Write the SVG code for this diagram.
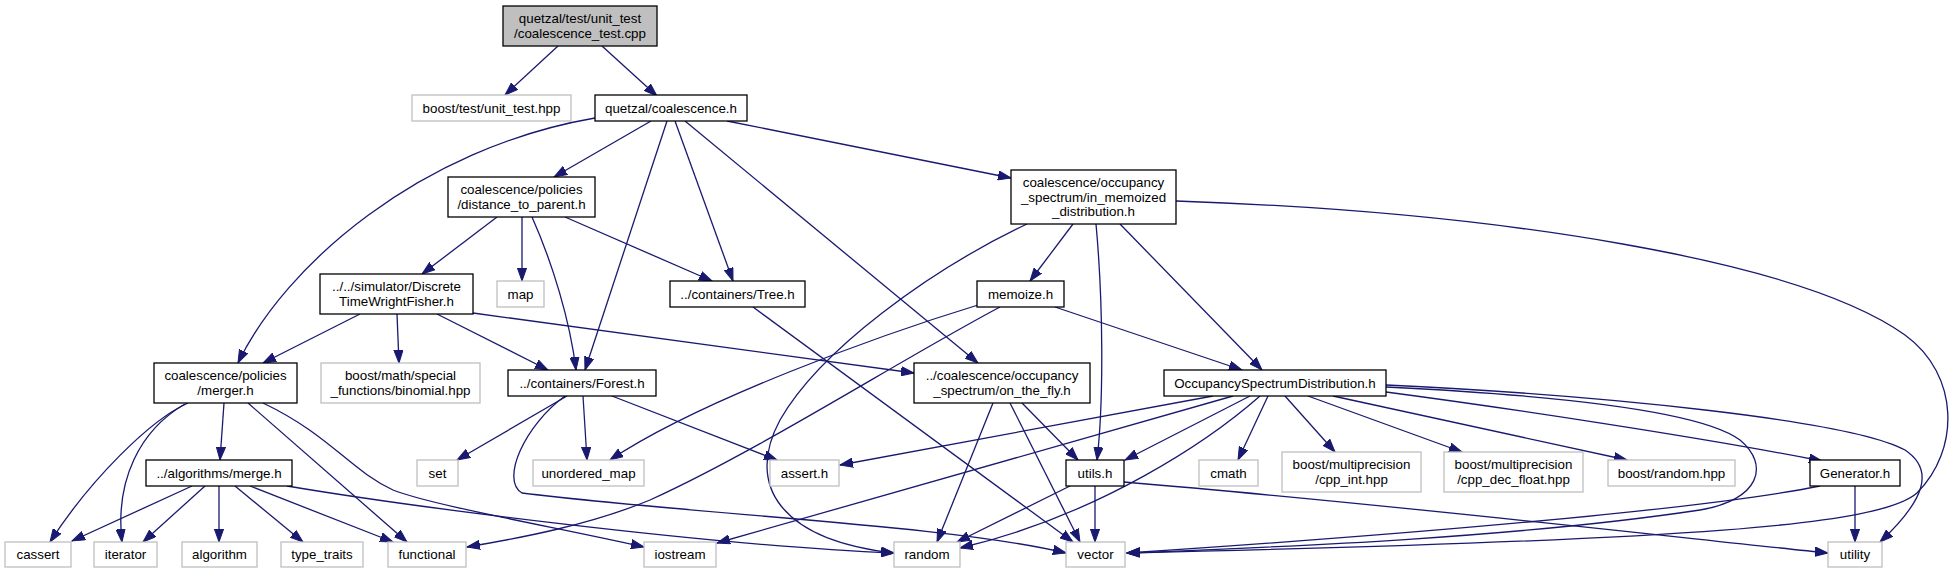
<svg xmlns="http://www.w3.org/2000/svg" width="1959" height="573" viewBox="0 0 1959 573">
<style>
.n rect{fill:#fff;stroke:#000;stroke-width:1.3}
.x rect{fill:#fff;stroke:#bfbfbf;stroke-width:1.3}
.r rect{fill:#bfbfbf;stroke:#000;stroke-width:1.3}
text{font-family:"Liberation Sans",Arial,Helvetica,sans-serif;font-size:13.33px;text-anchor:middle;fill:#000}
#edges path{fill:none;stroke:#191970;stroke-width:1.3;marker-end:url(#a)}
</style>
<defs>
<marker id="a" markerWidth="14" markerHeight="10" refX="13" refY="5" orient="auto" markerUnits="userSpaceOnUse">
<path d="M0,0.4 L13,5 L0,9.6 Z" fill="#191970" stroke="#191970" stroke-width="1"/>
</marker>
</defs>
<rect width="1959" height="573" fill="#fff"/>
<g id="edges">
<path d="M558,46 L505,95"/>
<path d="M602,46 L657,96"/>
<path d="M595,118 C420,148 285,265 238,363"/>
<path d="M651,121 L554,177"/>
<path d="M667,121 L585,370"/>
<path d="M675,121 L733,281"/>
<path d="M685,121 L978,363"/>
<path d="M727,121 L1011,178"/>
<path d="M497,217 L422,274"/>
<path d="M522,217 L522,281"/>
<path d="M532,217 C552,262 570,320 576,370"/>
<path d="M565,217 L712,281"/>
<path d="M360,314 L263,363"/>
<path d="M397,314 L399,363"/>
<path d="M437,314 L548,370"/>
<path d="M473,313 L914,373"/>
<path d="M753,307 L1073,542"/>
<path d="M1027,224 C930,270 820,350 780,420 C745,485 780,540 894,553"/>
<path d="M1073,224 L1030,281"/>
<path d="M1096,224 C1103,300 1104,400 1097,460"/>
<path d="M1120,224 L1262,370"/>
<path d="M1176,201 C1500,212 1800,260 1905,335 C1960,375 1960,450 1917,493 C1880,525 1700,540 1127,553"/>
<path d="M978,305 C880,335 700,400 610,460"/>
<path d="M1000,307 C900,360 760,450 650,500 C590,525 520,538 467,547"/>
<path d="M1055,307 L1242,370"/>
<path d="M188,403 C150,420 90,480 50,542"/>
<path d="M185,404 C140,430 115,480 122,542"/>
<path d="M224,403 L220,460"/>
<path d="M248,403 L407,542"/>
<path d="M263,403 C330,435 350,470 393,490 C430,505 560,528 644,547"/>
<path d="M287,486 C400,505 700,545 894,553"/>
<path d="M192,486 L72,541"/>
<path d="M205,486 L143,542"/>
<path d="M219,486 L219,542"/>
<path d="M235,486 L303,542"/>
<path d="M250,486 L393,542"/>
<path d="M567,396 L457,460"/>
<path d="M583,396 L587,460"/>
<path d="M612,396 L777,460"/>
<path d="M565,396 C525,425 500,480 522,493 C700,515 950,525 1066,553"/>
<path d="M1022,403 L1078,460"/>
<path d="M993,403 L937,542"/>
<path d="M1010,403 L1080,542"/>
<path d="M1213,396 L840,465"/>
<path d="M1233,396 L717,543"/>
<path d="M1250,396 L1125,460"/>
<path d="M1260,396 C1210,440 1100,515 960,548"/>
<path d="M1268,396 L1238,460"/>
<path d="M1285,396 L1335,452"/>
<path d="M1308,396 L1462,452"/>
<path d="M1333,396 L1627,460"/>
<path d="M1386,392 C1500,407 1700,437 1822,461"/>
<path d="M1386,387 C1550,395 1700,410 1740,440 C1770,465 1760,500 1700,510 C1500,540 1250,548 1127,553"/>
<path d="M1386,385 C1600,395 1850,420 1905,450 C1935,470 1925,500 1880,542"/>
<path d="M1820,486 C1700,510 1400,535 1127,553"/>
<path d="M1855,486 L1855,542"/>
<path d="M1124,482 C1400,505 1700,540 1828,553"/>
<path d="M1095,486 L1095,542"/>
<path d="M1070,486 L957,542"/>
</g>
<g id="n1" class="r"><rect x="503" y="6" width="154" height="40"/><text x="580" y="22.5">quetzal/test/unit_test</text><text x="580" y="37.5">/coalescence_test.cpp</text></g>
<g id="n2" class="x"><rect x="412" y="95" width="159" height="26"/><text x="491.5" y="112.5">boost/test/unit_test.hpp</text></g>
<g id="n3" class="n"><rect x="595" y="95" width="152" height="26"/><text x="671" y="112.5">quetzal/coalescence.h</text></g>
<g id="n4" class="n"><rect x="448" y="177" width="147" height="40"/><text x="521.5" y="194">coalescence/policies</text><text x="521.5" y="209">/distance_to_parent.h</text></g>
<g id="n5" class="n"><rect x="1011" y="170" width="165" height="54"/><text x="1093.5" y="187">coalescence/occupancy</text><text x="1093.5" y="201.5">_spectrum/in_memoized</text><text x="1093.5" y="216">_distribution.h</text></g>
<g id="n6" class="n"><rect x="320" y="274" width="153" height="40"/><text x="396.5" y="291">../../simulator/Discrete</text><text x="396.5" y="306">TimeWrightFisher.h</text></g>
<g id="n7" class="x"><rect x="497" y="281" width="47" height="26"/><text x="520.5" y="298.5">map</text></g>
<g id="n8" class="n"><rect x="670" y="281" width="135" height="26"/><text x="737.5" y="298.5">../containers/Tree.h</text></g>
<g id="n9" class="n"><rect x="977" y="281" width="87" height="26"/><text x="1020.5" y="298.5">memoize.h</text></g>
<g id="n10" class="n"><rect x="154" y="363" width="143" height="40"/><text x="225.5" y="380">coalescence/policies</text><text x="225.5" y="395">/merger.h</text></g>
<g id="n11" class="x"><rect x="321" y="363" width="159" height="40"/><text x="400.5" y="380">boost/math/special</text><text x="400.5" y="395">_functions/binomial.hpp</text></g>
<g id="n12" class="n"><rect x="508" y="370" width="148" height="26"/><text x="582" y="387.5">../containers/Forest.h</text></g>
<g id="n13" class="n"><rect x="914" y="363" width="176" height="40"/><text x="1002" y="380">../coalescence/occupancy</text><text x="1002" y="395">_spectrum/on_the_fly.h</text></g>
<g id="n14" class="n"><rect x="1164" y="370" width="222" height="26"/><text x="1275" y="387.5">OccupancySpectrumDistribution.h</text></g>
<g id="n15" class="n"><rect x="146" y="460" width="146" height="26"/><text x="219" y="477.5">../algorithms/merge.h</text></g>
<g id="n16" class="x"><rect x="417" y="460" width="41" height="26"/><text x="437.5" y="477.5">set</text></g>
<g id="n17" class="x"><rect x="533" y="460" width="111" height="26"/><text x="588.5" y="477.5">unordered_map</text></g>
<g id="n18" class="x"><rect x="770" y="460" width="69" height="26"/><text x="804.5" y="477.5">assert.h</text></g>
<g id="n19" class="n"><rect x="1066" y="460" width="58" height="26"/><text x="1095" y="477.5">utils.h</text></g>
<g id="n20" class="x"><rect x="1199" y="460" width="59" height="26"/><text x="1228.5" y="477.5">cmath</text></g>
<g id="n21" class="x"><rect x="1282" y="452" width="139" height="40"/><text x="1351.5" y="469">boost/multiprecision</text><text x="1351.5" y="484">/cpp_int.hpp</text></g>
<g id="n22" class="x"><rect x="1444" y="452" width="139" height="40"/><text x="1513.5" y="469">boost/multiprecision</text><text x="1513.5" y="484">/cpp_dec_float.hpp</text></g>
<g id="n23" class="x"><rect x="1608" y="460" width="127" height="26"/><text x="1671.5" y="477.5">boost/random.hpp</text></g>
<g id="n24" class="n"><rect x="1810" y="460" width="90" height="26"/><text x="1855" y="477.5">Generator.h</text></g>
<g id="n25" class="x"><rect x="5" y="542" width="66" height="25"/><text x="38" y="559">cassert</text></g>
<g id="n26" class="x"><rect x="94" y="542" width="63" height="25"/><text x="125.5" y="559">iterator</text></g>
<g id="n27" class="x"><rect x="182" y="542" width="75" height="25"/><text x="219.5" y="559">algorithm</text></g>
<g id="n28" class="x"><rect x="281" y="542" width="82" height="25"/><text x="322" y="559">type_traits</text></g>
<g id="n29" class="x"><rect x="388" y="542" width="78" height="25"/><text x="427" y="559">functional</text></g>
<g id="n30" class="x"><rect x="644" y="542" width="72" height="25"/><text x="680" y="559">iostream</text></g>
<g id="n31" class="x"><rect x="894" y="542" width="66" height="25"/><text x="927" y="559">random</text></g>
<g id="n32" class="x"><rect x="1066" y="542" width="59" height="25"/><text x="1095.5" y="559">vector</text></g>
<g id="n33" class="x"><rect x="1828" y="542" width="54" height="25"/><text x="1855" y="559">utility</text></g>
</svg>
